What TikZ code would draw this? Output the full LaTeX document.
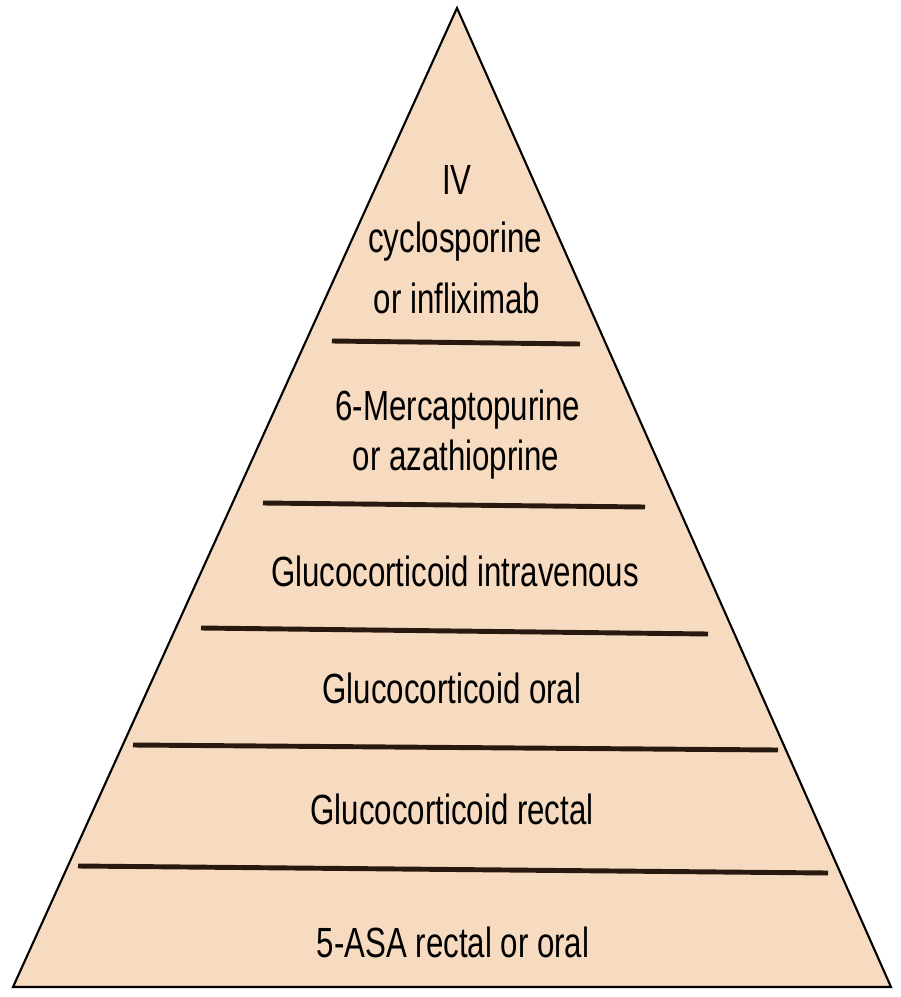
\documentclass[tikz,border=0pt]{standalone}
\usepackage{fontspec}
\setmainfont{Liberation Sans}[FakeStretch=0.74]
\usetikzlibrary{positioning}
\definecolor{pyrFill}{RGB}{247,219,192}
\definecolor{pyrRule}{RGB}{40,25,15}
\tikzset{
    pyr_outline/.style={
        draw=black,
        line width=0.6pt,
        fill=pyrFill,
        line join=miter
    },
    pyr_rule/.style={
        draw=pyrRule,
        line width=1.4pt
    },
    pyr_label/.style={
        font=\fontsize{12}{14}\selectfont,
        text=black,
        anchor=base,
        inner sep=0pt
    }
}

\begin{document}
\begin{tikzpicture}[x=0.01cm, y=-0.01cm]
\useasboundingbox (0,0) rectangle (901,997);

% --- Pyramid outline ---
\coordinate (Apex) at (457,8);
\coordinate (BaseL) at (13,987);
\coordinate (BaseR) at (891,987);
\draw[pyr_outline] (Apex) -- (BaseL) -- (BaseR) -- cycle;

% --- Tier dividers ---
\draw[pyr_rule] (332,341) -- (580,344);
\draw[pyr_rule] (263,503) -- (645,507);
\draw[pyr_rule] (201,628) -- (708,634);
\draw[pyr_rule] (133,745) -- (778,750);
\draw[pyr_rule] (78,866) -- (828,873);

% --- Tier labels, top to bottom ---
\node[pyr_label] (IVLine) at (457,195) {IV};
\node[pyr_label] (Cyclo) at (455,252) {cyclosporine};
\node[pyr_label] (Inflix) at (457,313) {or infliximab};
\node[pyr_label] (Mercapto) at (458,420) {6-Mercaptopurine};
\node[pyr_label] (Azathio) at (456,470) {or azathioprine};
\node[pyr_label] (GlucoIV) at (455,586) {Glucocorticoid intravenous};
\node[pyr_label] (GlucoOral) at (452,703) {Glucocorticoid oral};
\node[pyr_label] (GlucoRectal) at (452,824) {Glucocorticoid rectal};
\node[pyr_label] (AsaBase) at (453,957) {5-ASA rectal or oral};

\end{tikzpicture}
\end{document}
